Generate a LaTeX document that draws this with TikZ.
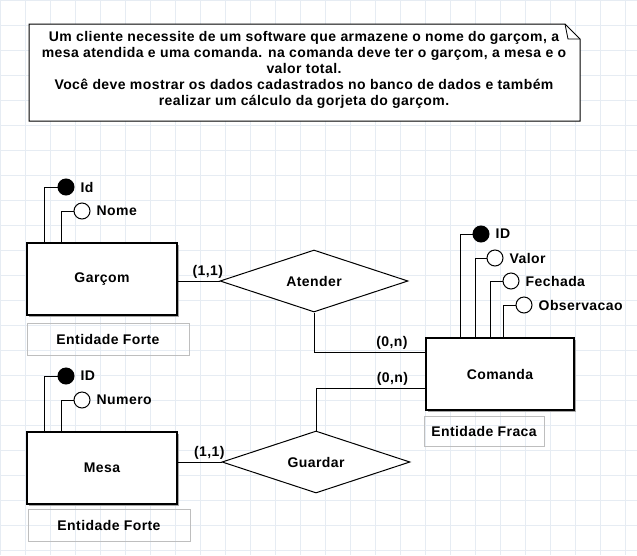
\documentclass[tikz,border=0pt]{standalone}
\usepackage{fontspec}
\setmainfont{Liberation Sans}[LetterSpace=3]
\usetikzlibrary{shapes.geometric,shadows}

\definecolor{gridcolor}{RGB}{230,236,243}
\definecolor{labelgray}{RGB}{190,190,190}

\tikzset{
  entidade/.style={draw,line width=1.4pt,fill=white,minimum width=150,minimum height=72,
    drop shadow={shadow xshift=2pt,shadow yshift=-2pt,fill=gray!70,opacity=1}},
  tipo/.style={draw=labelgray,line width=0.9pt,minimum height=32},
  relacao/.style={draw,diamond,line width=1pt,fill=white,aspect=3,minimum width=188,minimum height=62,inner sep=0pt},
  chave/.style={draw,circle,fill=black,line width=1pt,minimum size=16,inner sep=0pt},
  atributo/.style={draw,circle,fill=white,line width=1pt,minimum size=16,inner sep=0pt},
  rotulo/.style={inner sep=2pt},
  nomeattr/.style={inner sep=0pt,anchor=west,xshift=6pt},
  liga/.style={line width=1pt},
}

\begin{document}
\begin{tikzpicture}[x=1pt,y=-1pt,font=\bfseries\fontsize{14}{16}\selectfont]
      \useasboundingbox (0,0) rectangle (637,555);
      \foreach \gx in {0,25,...,625} \draw[gridcolor] (\gx,0) -- (\gx,555);
      \foreach \gy in {0,25,...,550} \draw[gridcolor] (0,\gy) -- (637,\gy);

      % nota
      \draw[line width=1pt,fill=white] (29,24) -- (565,24) -- (580,39) -- (580,121) -- (29,121) -- cycle;
      \draw[line width=0.8pt] (565,24) -- (568,39) -- (580,39);
      \node[align=center] (nota) at (304,70) {Um cliente necessite de um software que armazene o nome do garçom, a\\
        mesa atendida e uma comanda. na comanda deve ter o garçom, a mesa e o\\
        valor total.\\
        Você deve mostrar os dados cadastrados no banco de dados e também\\
        realizar um cálculo da gorjeta do garçom.};

      % entidades
      \node[entidade] (garcom) at (102,279) {Garçom};
      \node[tipo,minimum width=162] (forte1) at (108,339) {Entidade Forte};
      \node[entidade] (mesa) at (102,468) {Mesa};
      \node[tipo,minimum width=162] (forte2) at (109,525) {Entidade Forte};
      \node[entidade,minimum width=148] (comanda) at (500,374) {Comanda};
      \node[tipo,minimum width=120,minimum height=30] (fraca) at (484,431) {Entidade Fraca};

      % relacoes
      \node[relacao] (atender) at (314,281) {Atender};
      \node[relacao] (guardar) at (316,462) {Guardar};

      % atributos
      \node[chave] (idG) at (66,187) {};
      \node[nomeattr] at (idG.east) {Id};
      \node[atributo] (nome) at (82,211) {};
      \node[nomeattr] at (nome.east) {Nome};

      \node[chave] (idM) at (66,376) {};
      \node[nomeattr] at (idM.east) {ID};
      \node[atributo] (numero) at (82,400) {};
      \node[nomeattr] at (numero.east) {Numero};

      \node[chave] (idC) at (481,234) {};
      \node[nomeattr] at (idC.east) {ID};
      \node[atributo] (valor) at (495,258) {};
      \node[nomeattr] at (valor.east) {Valor};
      \node[atributo] (fechada) at (511,281) {};
      \node[nomeattr] at (fechada.east) {Fechada};
      \node[atributo] (obs) at (524,305) {};
      \node[nomeattr] at (obs.east) {Observacao};

      \draw[liga] ([xshift=18pt]garcom.north west) |- (idG);
      \draw[liga] ([xshift=35pt]garcom.north west) |- (nome);
      \draw[liga] ([xshift=18pt]mesa.north west) |- (idM);
      \draw[liga] ([xshift=35pt]mesa.north west) |- (numero);
      \draw[liga] ([xshift=35pt]comanda.north west) |- (idC);
      \draw[liga] ([xshift=50pt]comanda.north west) |- (valor);
      \draw[liga] ([xshift=65pt]comanda.north west) |- (fechada);
      \draw[liga] ([xshift=78pt]comanda.north west) |- (obs);

      % ligacoes
      \draw[liga] (atender.west -| garcom.east) -- node[pos=0.72,above,rotulo] {(1,1)} (atender.west);
      \draw[liga] (guardar.west -| mesa.east) -- node[pos=0.72,above,rotulo] {(1,1)} (guardar.west);
      \draw[liga] (atender.south) |- node[pos=0.85,above,rotulo] {(0,n)} ([yshift=22pt]comanda.west);
      \draw[liga] (guardar.north) |- node[pos=0.85,above,rotulo] {(0,n)} ([yshift=-14pt]comanda.west);
    \end{tikzpicture}
\end{document}
